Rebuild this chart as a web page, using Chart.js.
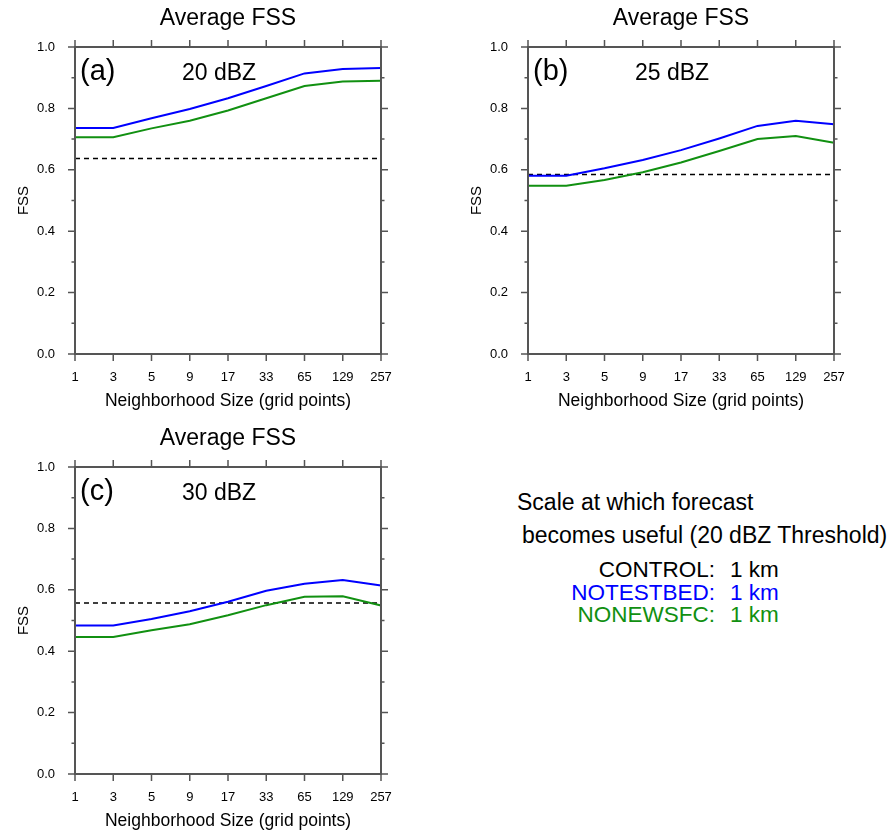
<!DOCTYPE html>
<html>
<head>
<meta charset="utf-8">
<script src="https://cdn.jsdelivr.net/npm/chart.js@4.4.1/dist/chart.umd.min.js"></script>
<style>
  body { margin: 0; background: #fff; width: 896px; height: 832px; overflow: hidden;
         font-family: "Liberation Sans", Arial, sans-serif; position: relative; }
  .panel { position: absolute; width: 448px; height: 420px; }
  .panel canvas { position: absolute; left: 0; top: 0; }
  .ttl { position: absolute; left: 75px; width: 306px; top: 6px; text-align: center;
         font-size: 23px; line-height: 23px; color: #000; }
  .tag { position: absolute; left: 80px; top: 56px; font-size: 29px; line-height: 29px; color: #000; }
  .thr { position: absolute; left: 182px; top: 61px; font-size: 23px; line-height: 23px; color: #000; }
  .note { position: absolute; font-size: 23px; line-height: 23px; color: #000; white-space: nowrap; }
  .lab { position: absolute; right: 181px; text-align: right; font-size: 22.5px; line-height: 22px; white-space: nowrap; }
  .val { position: absolute; left: 730px; font-size: 22.5px; line-height: 22px; white-space: nowrap; }
</style>
</head>
<body>

<div class="panel" style="left:0;top:0"><canvas id="ca" width="448" height="420"></canvas>
  <div class="ttl">Average FSS</div><div class="tag">(a)</div><div class="thr">20 dBZ</div></div>
<div class="panel" style="left:453px;top:0"><canvas id="cb" width="448" height="420"></canvas>
  <div class="ttl">Average FSS</div><div class="tag">(b)</div><div class="thr">25 dBZ</div></div>
<div class="panel" style="left:0;top:420px"><canvas id="cc" width="448" height="420"></canvas>
  <div class="ttl">Average FSS</div><div class="tag">(c)</div><div class="thr">30 dBZ</div></div>

<div class="note" style="left:517px;top:491px">Scale at which forecast</div>
<div class="note" style="left:522px;top:524px">becomes useful (20 dBZ Threshold)</div>

<div class="lab" style="top:559px;color:#000">CONTROL:</div>
<div class="val" style="top:559px;color:#000">1 km</div>
<div class="lab" style="top:582px;color:#0000ff">NOTESTBED:</div>
<div class="val" style="top:582px;color:#0000ff">1 km</div>
<div class="lab" style="top:604px;color:#119011">NONEWSFC:</div>
<div class="val" style="top:604px;color:#119011">1 km</div>

<script>
// neighborhood sizes (grid points)
const sizes = ["1", "3", "5", "9", "17", "33", "65", "129", "257"];

// 20 dBZ
const blueA  = [0.736, 0.736, 0.768, 0.798, 0.833, 0.873, 0.914, 0.928, 0.932];
const greenA = [0.706, 0.706, 0.735, 0.760, 0.793, 0.833, 0.873, 0.888, 0.890];
const usefulA = 0.637;

// 25 dBZ
const blueB  = [0.581, 0.581, 0.605, 0.632, 0.664, 0.702, 0.743, 0.760, 0.748];
const greenB = [0.548, 0.548, 0.567, 0.592, 0.624, 0.661, 0.700, 0.710, 0.688];
const usefulB = 0.585;

// 30 dBZ
const blueC  = [0.484, 0.484, 0.505, 0.530, 0.561, 0.597, 0.620, 0.632, 0.614];
const greenC = [0.446, 0.446, 0.468, 0.488, 0.517, 0.550, 0.577, 0.579, 0.549];
const usefulC = 0.557;

const FONT = "'Liberation Sans', Arial, sans-serif";
const BLUE = "#0000ff";
const GREEN = "#119011";

// box + outward tick marks on all four sides
const frame = {
  id: "frame",
  afterDraw(chart) {
    const { ctx, chartArea: a, scales: { x, y } } = chart;
    ctx.save();
    ctx.strokeStyle = "#555";
    ctx.lineWidth = 1.5;
    ctx.beginPath();
    y.ticks.forEach(t => {
      const py = y.getPixelForValue(t.value);
      const len = t.label ? 7 : 3.5;
      ctx.moveTo(a.left - len, py); ctx.lineTo(a.left, py);
      ctx.moveTo(a.right, py); ctx.lineTo(a.right + len, py);
    });
    x.ticks.forEach((t, i) => {
      const px = x.getPixelForValue(i);
      ctx.moveTo(px, a.top - 7); ctx.lineTo(px, a.top);
      ctx.moveTo(px, a.bottom); ctx.lineTo(px, a.bottom + 7);
    });
    ctx.stroke();
    ctx.lineWidth = 2;
    ctx.strokeRect(a.left, a.top, a.right - a.left, a.bottom - a.top);
    ctx.restore();
  }
};

function makePanel(id, blue, green, useful) {
  new Chart(document.getElementById(id), {
    type: "line",
    data: {
      labels: sizes,
      datasets: [
        { data: blue, borderColor: BLUE, borderWidth: 2, pointRadius: 0 },
        { data: green, borderColor: GREEN, borderWidth: 2, pointRadius: 0 },
        { data: [{ x: sizes[0], y: useful }, { x: sizes[sizes.length - 1], y: useful }],
          borderColor: "#000", borderWidth: 1.5, borderDash: [5, 4], pointRadius: 0 }
      ]
    },
    options: {
      responsive: false,
      animation: false,
      devicePixelRatio: 1,
      layout: { padding: { left: 15, right: 67, top: 47, bottom: 8 } },
      plugins: {
        legend: { display: false },
        tooltip: { enabled: false },
        title: { display: false }
      },
      scales: {
        x: {
          type: "category", offset: false,
          grid: { display: false }, border: { display: false },
          ticks: { color: "#000", font: { family: FONT, size: 13 }, padding: 8,
                   maxRotation: 0, autoSkip: false },
          title: { display: true, text: "Neighborhood Size (grid points)", color: "#000",
                   font: { family: FONT, size: 17.5 }, padding: 0 },
          afterFit: s => { s.height = 58; }
        },
        y: {
          min: 0, max: 1,
          grid: { display: false }, border: { display: false },
          ticks: { stepSize: 0.05, color: "#000", font: { family: FONT, size: 13 }, padding: 12,
                   callback: v => (Math.round(v * 20) % 4 === 0 ? v.toFixed(1) : "") },
          title: { display: true, text: "FSS", color: "#000",
                   font: { family: FONT, size: 15 }, padding: 0 },
          afterFit: s => { s.width = 60; }
        }
      }
    },
    plugins: [frame]
  });
}

makePanel("ca", blueA, greenA, usefulA);
makePanel("cb", blueB, greenB, usefulB);
makePanel("cc", blueC, greenC, usefulC);
</script>
</body>
</html>
